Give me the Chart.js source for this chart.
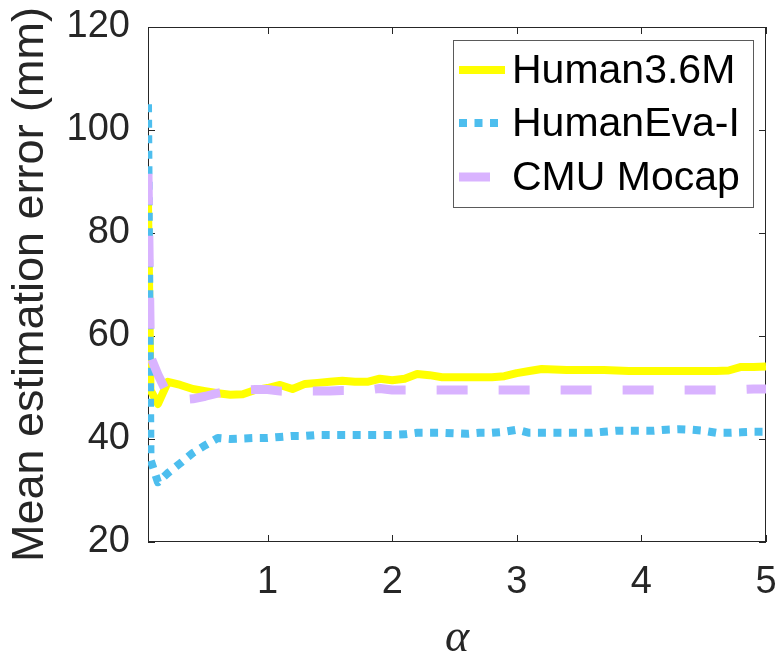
<!DOCTYPE html>
<html><head><meta charset="utf-8">
<script src="https://cdn.jsdelivr.net/npm/chart.js@4.4.0/dist/chart.umd.min.js"></script>
<style>html,body{margin:0;padding:0;background:#fff;}</style>
</head><body>
<canvas id="c" width="780" height="667"></canvas>
<script>
const alpha = [0.04, 0.06, 0.12,
  0.2,0.3,0.4,0.5,0.6,0.7,0.8,0.9,1.0,
  1.1,1.2,1.3,1.4,1.5,1.6,1.7,1.8,1.9,2.0,
  2.1,2.2,2.3,2.4,2.5,2.6,2.7,2.8,2.9,3.0,
  3.1,3.2,3.3,3.4,3.5,3.6,3.7,3.8,3.9,4.0,
  4.1,4.2,4.3,4.4,4.5,4.6,4.7,4.8,4.9,5.0];
const human36m = [86, 49.5, 46.8,
  51.1,50.5,49.7,49.3,48.9,48.6,48.7,49.5,49.9,
  50.5,49.7,50.7,50.9,51.1,51.3,51.1,51.1,51.7,51.4,
  51.7,52.6,52.4,52.0,52.0,52.0,52.0,52.0,52.2,52.8,
  53.2,53.6,53.5,53.4,53.4,53.4,53.4,53.3,53.2,53.2,
  53.2,53.2,53.2,53.2,53.2,53.2,53.3,54.0,54.0,54.1];
const humanEva = [105, 36, 31.6,
  33.4,35.3,37.3,38.8,40.2,40.0,40.1,40.2,40.2,
  40.4,40.6,40.6,40.8,40.8,40.8,40.8,40.8,40.8,40.8,
  40.9,41.2,41.2,41.2,41.1,41.0,41.2,41.2,41.4,41.8,
  41.2,41.2,41.2,41.2,41.2,41.2,41.4,41.6,41.6,41.6,
  41.6,41.8,41.9,41.8,41.6,41.2,41.2,41.3,41.4,41.4];
const cmuMocap = [91.5, 56, 52.5,
  48.5,47.6,47.8,48.3,48.9,49.3,49.5,49.6,49.6,
  49.3,49.2,49.3,49.3,49.3,49.4,49.4,49.5,49.8,49.5,
  49.5,49.5,49.5,49.5,49.5,49.5,49.5,49.5,49.5,49.5,
  49.5,49.5,49.5,49.5,49.5,49.5,49.5,49.5,49.5,49.5,
  49.5,49.5,49.5,49.5,49.5,49.5,49.5,49.6,49.7,49.7];
const seriesNames = ['Human3.6M', 'HumanEva-I', 'CMU Mocap'];
const xTickValues = [1, 2, 3, 4, 5];
const yTickValues = [20, 40, 60, 80, 100, 120];

const AX = '#262626';
const SANS = '"Liberation Sans", Arial, sans-serif';
const toPts = arr => arr.map((v, i) => ({x: alpha[i], y: v}));
const noPad = s => { s.paddingTop = 0; s.paddingBottom = 0; s.paddingLeft = 0; s.paddingRight = 0; };

const framePlugin = {
  id: 'frame',
  beforeDatasetsDraw(chart) {
    const {ctx, chartArea: a, scales} = chart;
    ctx.save();
    ctx.strokeStyle = AX;
    ctx.lineWidth = 1;
    ctx.strokeRect(Math.round(a.left) + 0.5, Math.round(a.top) + 0.5,
      Math.round(a.right - a.left) - 1, Math.round(a.bottom - a.top) - 1);
    const L = 7;
    ctx.beginPath();
    xTickValues.forEach(v => {
      const px = Math.round(scales.x.getPixelForValue(v)) + 0.5;
      ctx.moveTo(px, a.bottom); ctx.lineTo(px, a.bottom - L);
      ctx.moveTo(px, a.top); ctx.lineTo(px, a.top + L);
    });
    yTickValues.forEach(v => {
      const py = Math.round(scales.y.getPixelForValue(v)) + 0.5;
      ctx.moveTo(a.left, py); ctx.lineTo(a.left + L, py);
      ctx.moveTo(a.right, py); ctx.lineTo(a.right - L, py);
    });
    ctx.stroke();
    ctx.restore();
  }
};

const legendPlugin = {
  id: 'boxLegend',
  afterDraw(chart) {
    const {ctx} = chart;
    const bx = 453, by = 40, bw = 300, bh = 167;
    ctx.save();
    ctx.fillStyle = '#ffffff';
    ctx.fillRect(bx, by, bw, bh);
    ctx.strokeStyle = '#5a5a5a';
    ctx.lineWidth = 1;
    ctx.strokeRect(bx + 0.5, by + 0.5, bw, bh);
    const rows = [70, 123, 177];
    chart.data.datasets.forEach((ds, i) => {
      const y = rows[i];
      ctx.beginPath();
      ctx.strokeStyle = ds.borderColor;
      ctx.lineWidth = ds.borderWidth;
      ctx.lineCap = 'butt';
      ctx.setLineDash(ds.borderDash || []);
      ctx.moveTo(459, y); ctx.lineTo(505, y);
      ctx.stroke();
      ctx.setLineDash([]);
      ctx.fillStyle = '#000000';
      ctx.font = '41px ' + SANS;
      ctx.textBaseline = 'middle';
      ctx.textAlign = 'left';
      ctx.fillText(ds.label, 512, y + 2);
    });
    ctx.restore();
  }
};

new Chart(document.getElementById('c'), {
  type: 'line',
  data: {
    datasets: [
      {label: seriesNames[0], data: toPts(human36m), borderColor: '#FFFF00', borderWidth: 8,
       pointRadius: 0, tension: 0, borderJoinStyle: 'round', order: 3, fill: false},
      {label: seriesNames[1], data: toPts(humanEva), borderColor: '#4DBEEE', borderWidth: 8,
       borderDash: [8, 7.5], pointRadius: 0, tension: 0, borderJoinStyle: 'round', order: 2, fill: false},
      {label: seriesNames[2], data: toPts(cmuMocap), borderColor: '#D9B3FF', borderWidth: 9,
       borderDash: [31, 31], pointRadius: 0, tension: 0, borderJoinStyle: 'round', order: 1, fill: false}
    ]
  },
  options: {
    responsive: false,
    animation: false,
    devicePixelRatio: 1,
    layout: {padding: {top: 27, right: 14, left: 0, bottom: 0}},
    plugins: {legend: {display: false}, tooltip: {enabled: false}},
    scales: {
      x: {
        type: 'linear', min: 0.04, max: 5,
        afterBuildTicks: s => { s.ticks = xTickValues.map(v => ({value: v})); },
        afterFit: s => { s.height = 125; noPad(s); },
        grid: {display: false, drawTicks: false},
        border: {display: false},
        ticks: {color: AX, font: {family: SANS, size: 38}, padding: 18, maxRotation: 0, autoSkip: false},
        title: {display: true, text: 'α', color: AX,
          font: {family: '"Liberation Serif", "DejaVu Serif", serif', style: 'italic', size: 46},
          padding: {top: 0, bottom: 0}}
      },
      y: {
        type: 'linear', min: 20, max: 120,
        afterBuildTicks: s => { s.ticks = yTickValues.map(v => ({value: v})); },
        afterFit: s => { s.width = 148; noPad(s); },
        grid: {display: false, drawTicks: false},
        border: {display: false},
        ticks: {color: AX, font: {family: SANS, size: 38}, padding: 18},
        title: {display: true, text: 'Mean estimation error (mm)', color: AX,
          font: {family: SANS, size: 45}, padding: {top: 4, bottom: 0}}
      }
    }
  },
  plugins: [framePlugin, legendPlugin]
});
</script>
</body></html>
